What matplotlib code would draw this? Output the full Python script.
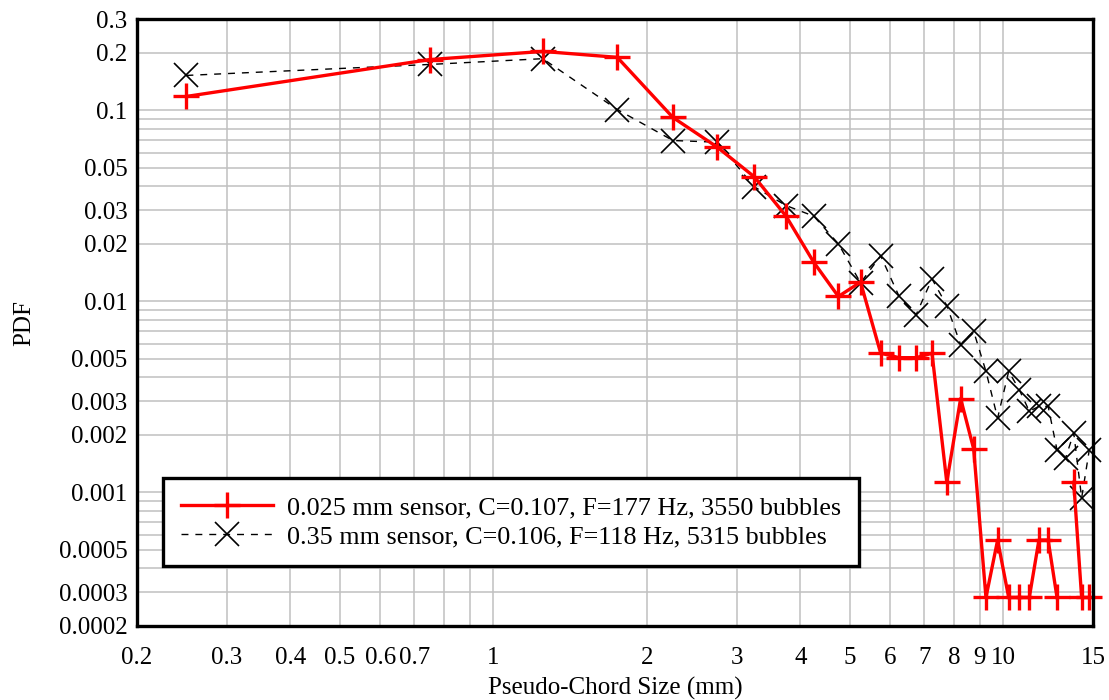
import numpy as np
import matplotlib
matplotlib.use('Agg')
import matplotlib.pyplot as plt
from matplotlib.ticker import NullFormatter

plt.rcParams['font.family'] = ['Liberation Serif', 'DejaVu Serif']

# centre of each 0.5 mm chord bin
chord_size = [0.25, 0.75, 1.25, 1.75, 2.25, 2.75, 3.25, 3.75, 4.25, 4.75,
              5.25, 5.75, 6.25, 6.75, 7.25, 7.75, 8.25, 8.75, 9.25, 9.75,
              10.25, 10.75, 11.25, 11.75, 12.25, 12.75, 13.25, 13.75, 14.25, 14.75]

# 0.025 mm sensor (nan = empty bin, not drawn on log scale)
pdf_025 = [0.118, 0.184, 0.203, 0.189, 0.0916, 0.064, 0.0448, 0.0279, 0.016, 0.0106,
           0.0126, 0.00535, 0.00507, 0.00507, 0.00535, 0.00113, 0.0031, 0.00169, 0.000282, 0.000563,
           0.000282, 0.000282, 0.000282, 0.000563, 0.000563, 0.000282, np.nan, 0.00113, 0.000282, 0.000282]

# 0.35 mm sensor
pdf_035 = [0.152, 0.1735, 0.186, 0.1008, 0.0694, 0.068, 0.0397, 0.0317, 0.0279, 0.020,
           0.0125, 0.0173, 0.0106, 0.00852, 0.0131, 0.0095, 0.00593, 0.00697, 0.0043, 0.00245,
           0.0043, 0.00345, 0.00266, 0.00282, 0.00282, 0.00167, 0.00151, 0.00205, 0.000935, 0.00167]

label_025 = '0.025 mm sensor, C=0.107, F=177 Hz, 3550 bubbles'
label_035 = '0.35 mm sensor, C=0.106, F=118 Hz, 5315 bubbles'

x_ticks = [0.2, 0.3, 0.4, 0.5, 0.6, 0.7, 1, 2, 3, 4, 5, 6, 7, 8, 9, 10, 15]
x_tick_labels = ['0.2', '0.3', '0.4', '0.5', '0.6', '0.7', '1', '2', '3', '4',
                 '5', '6', '7', '8', '9', '10', '15']
x_grid_extra = [0.8, 0.9]

y_ticks = [0.0002, 0.0003, 0.0005, 0.001, 0.002, 0.003, 0.005,
           0.01, 0.02, 0.03, 0.05, 0.1, 0.2, 0.3]
y_tick_labels = ['0.0002', '0.0003', '0.0005', '0.001', '0.002', '0.003', '0.005',
                 '0.01', '0.02', '0.03', '0.05', '0.1', '0.2', '0.3']
y_grid_extra = [0.0004, 0.0006, 0.0007, 0.0008, 0.0009, 0.004, 0.006, 0.007, 0.008, 0.009,
                0.04, 0.06, 0.07, 0.08, 0.09]

FS = 18


def plot_pdf(ax):
	ax.plot(chord_size, pdf_025, color='red', lw=2.4, marker='+', ms=19, mew=2.4,
	        label=label_025, clip_on=False, zorder=4)
	ax.plot(chord_size, pdf_035, color='black', lw=1.0, ls=(0, (5, 5)), marker='x', ms=17,
	        mew=1.2, label=label_035, clip_on=False, zorder=3)


def style_axes(ax):
	ax.set_xscale('log')
	ax.set_yscale('log')
	ax.set_xlim(0.2, 15)
	ax.set_ylim(0.0002, 0.3)

	ax.set_xticks(x_ticks)
	ax.set_xticklabels(x_tick_labels, fontsize=FS)
	ax.set_xticks(x_grid_extra, minor=True)
	ax.xaxis.set_minor_formatter(NullFormatter())

	ax.set_yticks(y_ticks)
	ax.set_yticklabels(y_tick_labels, fontsize=FS)
	ax.set_yticks(y_grid_extra, minor=True)
	ax.yaxis.set_minor_formatter(NullFormatter())

	ax.tick_params(axis='x', which='both', length=0, pad=15)
	ax.tick_params(axis='y', which='both', length=0, pad=7)
	ax.grid(True, which='both', color='#c0c0c0', lw=1.1, zorder=0)
	ax.set_axisbelow(True)

	for side in ax.spines:
		ax.spines[side].set_linewidth(2.4)
		ax.spines[side].set_color('black')
		ax.spines[side].set_zorder(5)

	ax.set_xlabel('Pseudo-Chord Size (mm)', fontsize=FS, labelpad=6)
	ax.set_ylabel('PDF', fontsize=FS, labelpad=17)


def main():
	fig = plt.figure(figsize=(11.09, 7.0), dpi=100)
	ax = fig.add_axes([137/1109, 1 - 626/700, (1093 - 137)/1109, (626 - 19)/700])

	plot_pdf(ax)
	style_axes(ax)

	leg = ax.legend(loc='upper left', bbox_to_anchor=(163/1109, 1 - 478/700),
	                bbox_transform=fig.transFigure, borderaxespad=0, fontsize=18.8,
	                fancybox=False, framealpha=1, edgecolor='black', handlelength=3.5,
	                handletextpad=0.55, labelspacing=0.2, borderpad=0.7)
	leg.get_frame().set_linewidth(2.4)
	leg.set_zorder(6)

	fig.savefig('out.png', dpi=100)


main()
